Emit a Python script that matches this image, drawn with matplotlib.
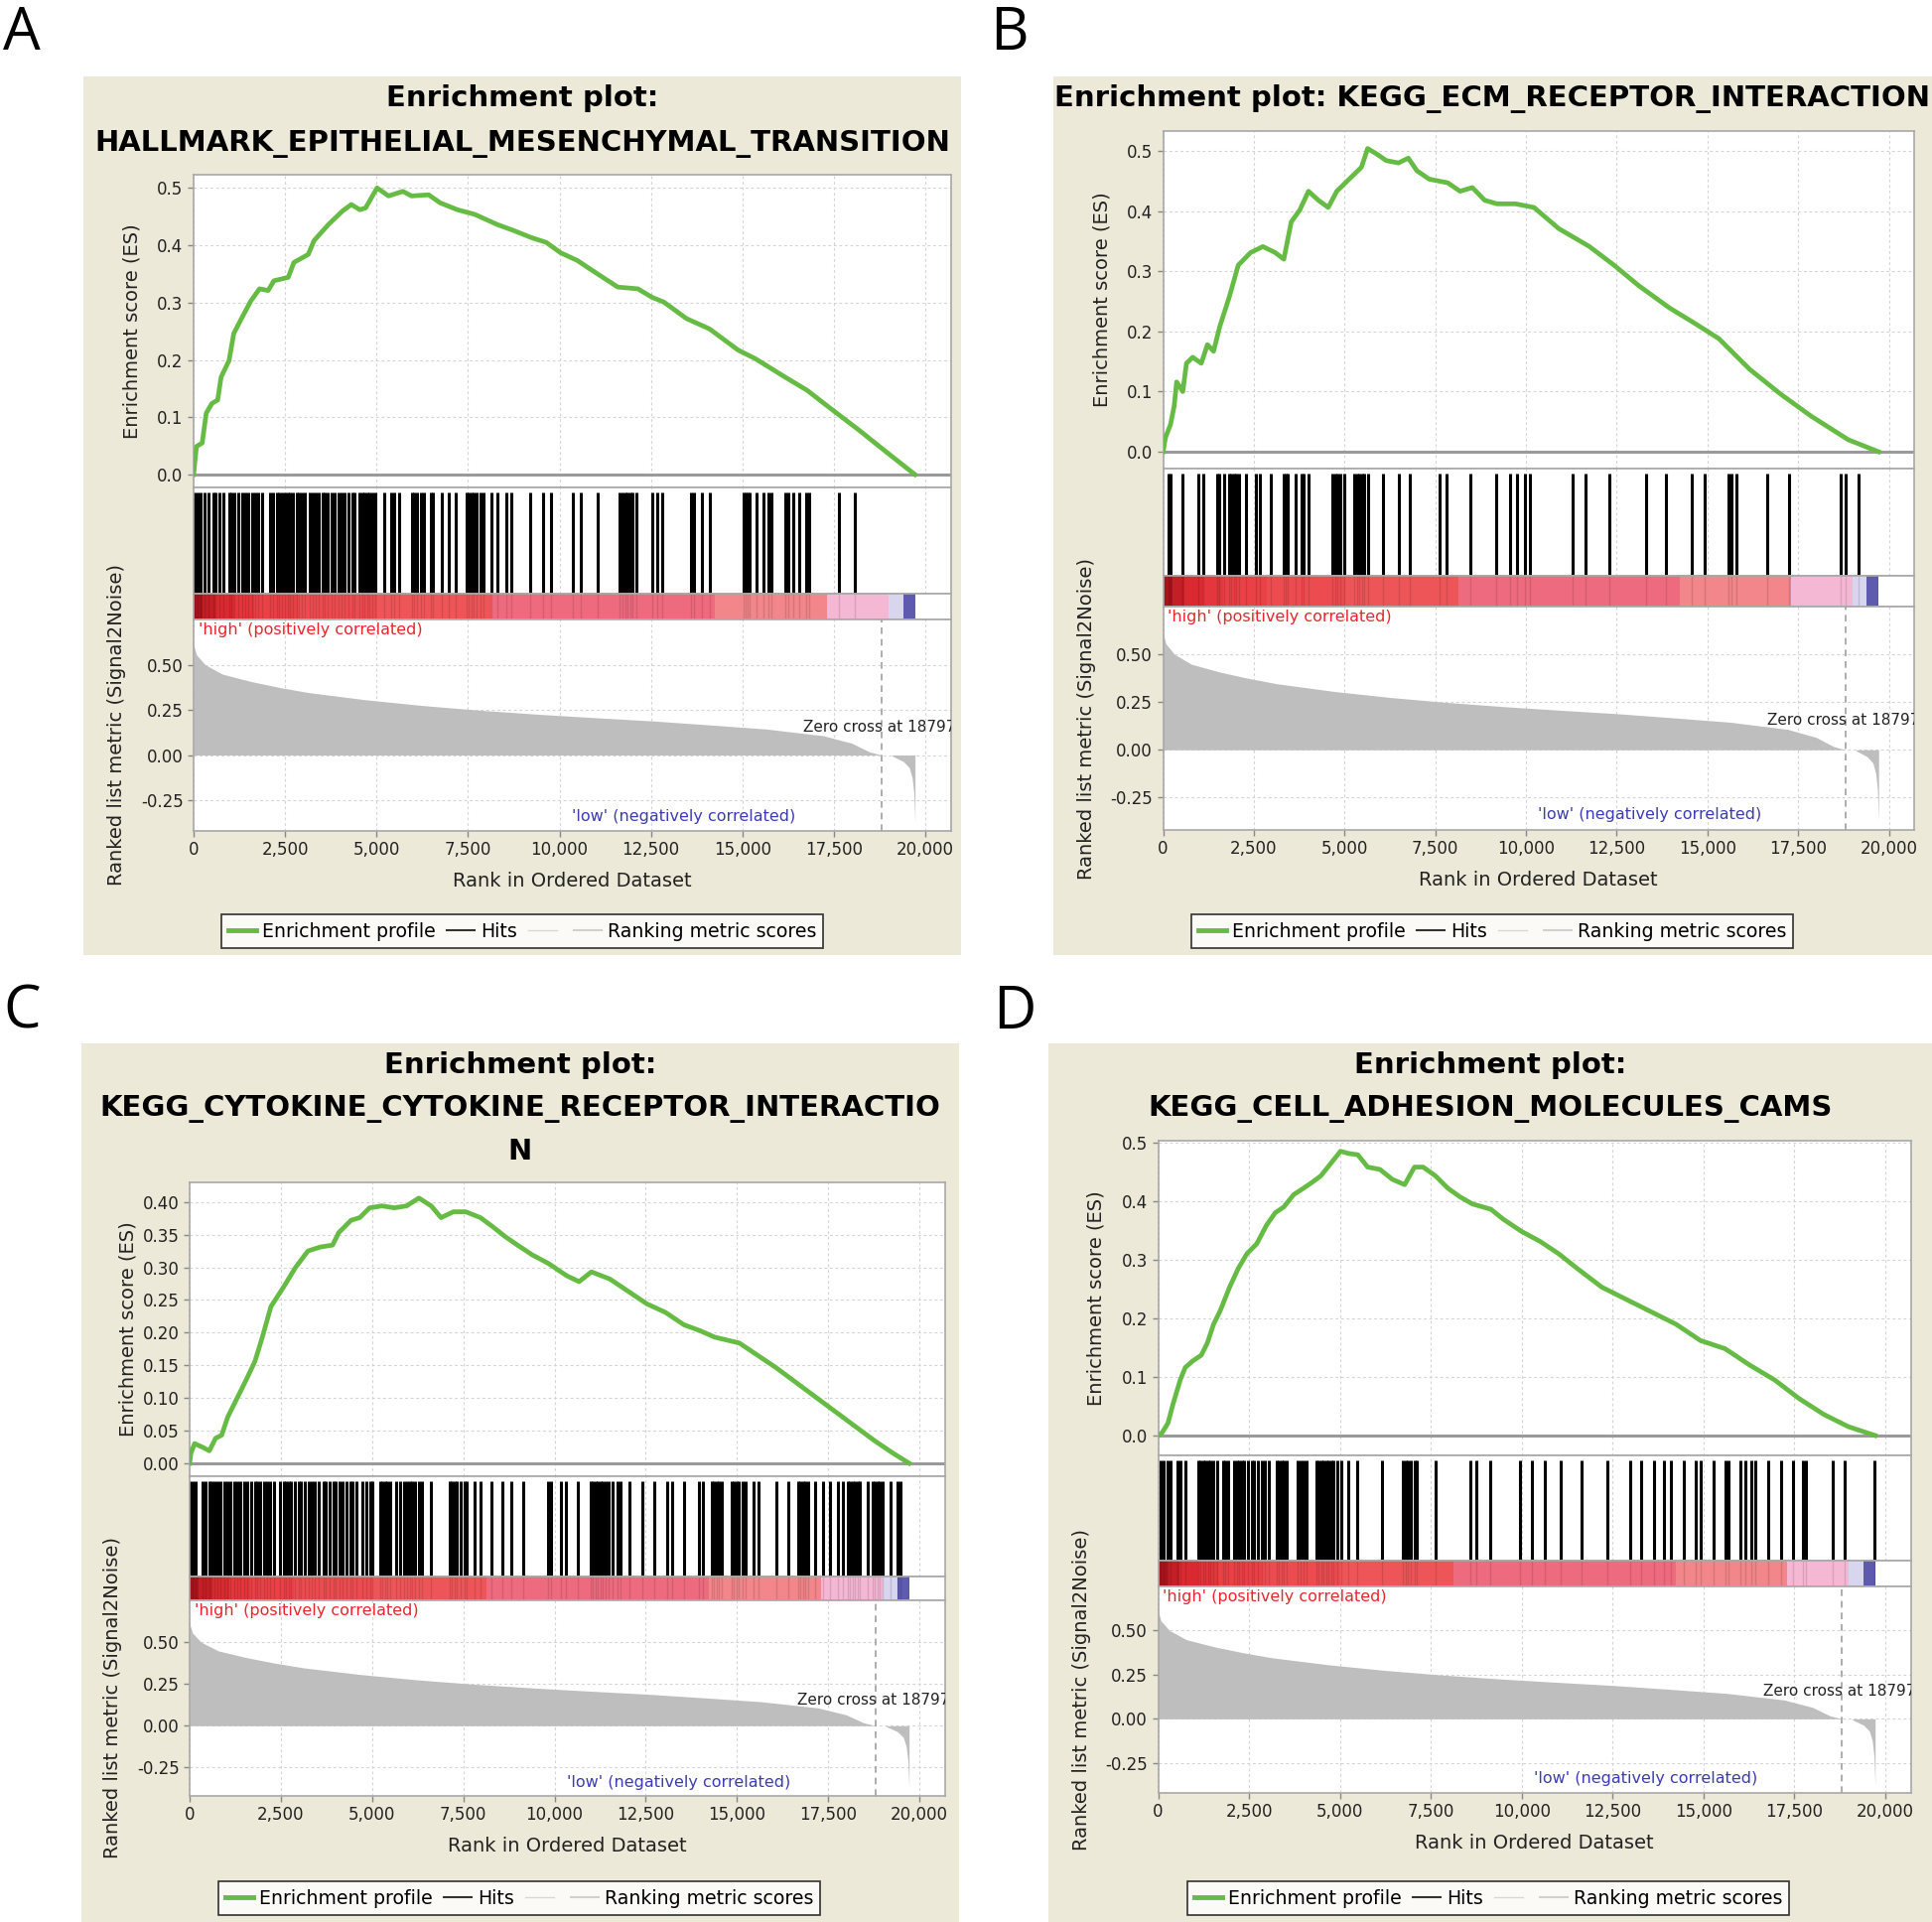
import numpy as np
import matplotlib.pyplot as plt
from matplotlib.lines import Line2D
from matplotlib.patches import Rectangle
from matplotlib.ticker import FormatStrFormatter, FuncFormatter

# ---- data ----
titles = [
    ["Enrichment plot:", "HALLMARK_EPITHELIAL_MESENCHYMAL_TRANSITION"],
    ["Enrichment plot: KEGG_ECM_RECEPTOR_INTERACTION"],
    ["Enrichment plot:", "KEGG_CYTOKINE_CYTOKINE_RECEPTOR_INTERACTIO", "N"],
    ["Enrichment plot:", "KEGG_CELL_ADHESION_MOLECULES_CAMS"],
]
panel_letters = ["A", "B", "C", "D"]

es_a_rank = [0, 78, 235, 345, 500, 658, 752, 970, 1097, 1332, 1567, 1802, 2037, 2194, 2586, 2742,
             3134, 3291, 3683, 4075, 4310, 4544, 4701, 5014, 5328, 5720, 5955, 6425, 6738, 7208,
             7678, 8305, 8775, 9245, 9637, 10029, 10499, 10969, 11596, 12144, 12536, 12849,
             13476, 14103, 14887, 15357, 16141, 16768, 17395, 18178, 18962, 19718]
es_a_score = [0, 0.049, 0.055, 0.107, 0.124, 0.130, 0.170, 0.199, 0.246, 0.275, 0.303, 0.324, 0.321,
              0.338, 0.344, 0.370, 0.384, 0.408, 0.436, 0.460, 0.471, 0.462, 0.465, 0.500, 0.486,
              0.494, 0.486, 0.488, 0.474, 0.462, 0.454, 0.436, 0.425, 0.413, 0.405, 0.387, 0.373,
              0.353, 0.327, 0.324, 0.309, 0.301, 0.272, 0.254, 0.217, 0.202, 0.171, 0.147, 0.116,
              0.078, 0.038, 0.0]

es_b_rank = [0, 68, 204, 306, 374, 543, 645, 815, 1053, 1223, 1392, 1562, 1834, 2071, 2411, 2750,
             3090, 3328, 3532, 3770, 4007, 4279, 4551, 4788, 5026, 5298, 5468, 5637, 5909, 6147,
             6486, 6758, 6996, 7335, 7845, 8184, 8524, 8863, 9203, 9713, 10222, 10901, 11750,
             12429, 13108, 13957, 14637, 15316, 16165, 17014, 17863, 18882, 19718]
es_b_score = [0, 0.024, 0.045, 0.076, 0.116, 0.100, 0.147, 0.157, 0.147, 0.178, 0.167, 0.208, 0.259,
              0.310, 0.331, 0.341, 0.331, 0.320, 0.382, 0.402, 0.433, 0.418, 0.406, 0.433, 0.447,
              0.463, 0.473, 0.504, 0.494, 0.484, 0.480, 0.488, 0.467, 0.453, 0.447, 0.433, 0.439,
              0.418, 0.412, 0.412, 0.406, 0.371, 0.341, 0.310, 0.276, 0.239, 0.214, 0.188, 0.137,
              0.096, 0.059, 0.020, 0.0]

es_c_rank = [0, 34, 135, 372, 540, 709, 878, 1047, 1216, 1554, 1790, 1993, 2230, 2567, 2905, 3243,
             3581, 3918, 4087, 4425, 4662, 4932, 5270, 5608, 5946, 6283, 6621, 6891, 7229, 7567,
             7972, 8310, 8648, 8985, 9391, 9830, 10337, 10674, 11012, 11519, 12026, 12532, 13039,
             13546, 13985, 14390, 15066, 15573, 16079, 16755, 17430, 18106, 18781, 19288, 19718]
es_c_score = [0.0, 0.015, 0.030, 0.024, 0.019, 0.038, 0.043, 0.071, 0.090, 0.128, 0.156, 0.193,
              0.240, 0.269, 0.300, 0.325, 0.331, 0.334, 0.353, 0.372, 0.376, 0.391, 0.394, 0.391,
              0.394, 0.406, 0.394, 0.376, 0.385, 0.385, 0.376, 0.362, 0.347, 0.334, 0.319, 0.306,
              0.287, 0.278, 0.293, 0.282, 0.263, 0.244, 0.231, 0.212, 0.203, 0.193, 0.184, 0.165,
              0.146, 0.118, 0.090, 0.062, 0.034, 0.015, 0.0]

es_d_rank = [0, 102, 271, 407, 610, 746, 949, 1187, 1356, 1526, 1695, 1966, 2204, 2441, 2712, 2983,
             3221, 3458, 3729, 4000, 4238, 4475, 4746, 5017, 5255, 5492, 5763, 6102, 6441, 6780,
             7051, 7289, 7628, 7967, 8306, 8645, 9153, 9492, 10001, 10509, 11018, 11526, 12204,
             12882, 13560, 14238, 14916, 15594, 16272, 16950, 17628, 18306, 18984, 19718]
es_d_score = [0, 0.004, 0.021, 0.053, 0.095, 0.116, 0.127, 0.137, 0.158, 0.190, 0.211, 0.253, 0.285,
              0.310, 0.327, 0.359, 0.380, 0.390, 0.411, 0.422, 0.432, 0.443, 0.464, 0.485, 0.481,
              0.479, 0.458, 0.454, 0.437, 0.428, 0.458, 0.458, 0.443, 0.422, 0.407, 0.395, 0.386,
              0.369, 0.348, 0.331, 0.310, 0.285, 0.253, 0.232, 0.211, 0.190, 0.162, 0.148, 0.120,
              0.095, 0.063, 0.036, 0.015, 0.0]

hits_a = [27, 108, 203, 298, 407, 542, 610, 705, 814, 976, 1044, 1125, 1220, 1329, 1424, 1492, 1600,
          1695, 1763, 1871, 2102, 2170, 2278, 2332, 2414, 2509, 2576, 2644, 2712, 2820, 2875, 2956,
          3051, 3187, 3254, 3336, 3417, 3526, 3593, 3661, 3770, 3865, 3959, 4041, 4136, 4231, 4339,
          4407, 4543, 4610, 4678, 4746, 4814, 4882, 4977, 5221, 5397, 5492, 5627, 5966, 6034, 6102,
          6210, 6305, 6482, 6536, 6780, 6983, 7160, 7458, 7526, 7594, 7661, 7729, 7838, 7933, 8136,
          8312, 8543, 8678, 9194, 9560, 9763, 10373, 10577, 11051, 11634, 11729, 11797, 11865, 11933,
          12001, 12096, 12543, 12679, 12814, 13587, 13668, 13899, 14102, 15025, 15079, 15133, 15187,
          15391, 15567, 15702, 15797, 16164, 16245, 16380, 16543, 16747, 16814, 17628, 18062]

hits_b = [163, 217, 529, 977, 1113, 1479, 1547, 1683, 1818, 1886, 1954, 2022, 2090, 2293, 2565, 2660,
          2972, 3311, 3379, 3447, 3650, 3813, 3881, 4017, 4668, 4736, 4804, 4872, 4980, 5279, 5347,
          5414, 5482, 5550, 5645, 6052, 6486, 6812, 7626, 7816, 8468, 9173, 9553, 9757, 9960, 10096,
          11290, 11630, 12308, 13312, 13855, 14574, 14913, 15592, 15660, 15795, 16650, 17247, 18686,
          18822, 19161]

hits_c = [5, 95, 176, 366, 447, 542, 610, 678, 773, 854, 949, 1044, 1125, 1220, 1315, 1397, 1492,
          1587, 1695, 1803, 1858, 1939, 2034, 2129, 2210, 2305, 2481, 2576, 2644, 2712, 2780, 2888,
          2983, 3051, 3159, 3254, 3349, 3431, 3526, 3661, 3729, 3838, 3932, 4000, 4109, 4204, 4299,
          4407, 4475, 4570, 4746, 4841, 4949, 5017, 5221, 5288, 5356, 5424, 5492, 5655, 5763, 5871,
          5966, 6034, 6102, 6170, 6278, 6373, 6604, 7119, 7187, 7255, 7322, 7417, 7526, 7594, 7797,
          7973, 8272, 8583, 8814, 9153, 9831, 9899, 10170, 10306, 10645, 10984, 11051, 11119, 11187,
          11255, 11323, 11390, 11485, 11594, 11729, 11797, 12068, 12407, 12746, 13085, 13221, 13560,
          13967, 14062, 14306, 14374, 14441, 14509, 14577, 14848, 14916, 14984, 15052, 15147, 15228,
          15458, 15594, 16069, 16408, 16679, 16747, 16814, 16882, 16950, 17153, 17357, 17560, 17764,
          17899, 18035, 18103, 18170, 18238, 18306, 18374, 18577, 18713, 18781, 18849, 18916, 18984,
          19215, 19391, 19486]

hits_d = [68, 150, 246, 342, 519, 615, 751, 1106, 1161, 1243, 1298, 1380, 1434, 1516, 1612, 1789,
          1844, 1926, 2090, 2158, 2227, 2295, 2363, 2472, 2568, 2636, 2746, 2841, 2937, 3046, 3265,
          3319, 3388, 3456, 3538, 3838, 3907, 4002, 4071, 4344, 4412, 4480, 4549, 4617, 4685, 4754,
          4822, 4931, 5027, 5232, 5478, 6147, 6734, 6803, 6871, 6939, 7062, 7117, 7636, 8578, 8756,
          9125, 9944, 10286, 10641, 11078, 11652, 12349, 12977, 13291, 13633, 13906, 14111, 14452,
          14794, 14930, 15272, 15613, 15682, 16023, 16160, 16324, 16433, 16774, 17143, 17457, 17730,
          17826, 18550, 18892, 19711]

# ranked list metric (same ranked dataset for all four panels)
metric_pos_rank = [0, 78, 313, 782, 1565, 2347, 3130, 4695, 6260, 7825, 9390, 10955, 12520, 14085,
                   15649, 17214, 17997, 18466, 18797]
metric_pos_value = [0.61, 0.555, 0.50, 0.448, 0.407, 0.374, 0.346, 0.306, 0.274, 0.248, 0.226,
                    0.207, 0.189, 0.167, 0.144, 0.107, 0.065, 0.018, 0.0]
metric_neg_rank = [19092, 19405, 19562, 19640, 19687, 19718]
metric_neg_value = [-0.005, -0.036, -0.07, -0.125, -0.21, -0.37]
zero_cross = 18797

# colour bar bands (rank edges) of the ranked list heat strip
cbar_edges = [0, 250, 600, 1100, 1650, 2850, 5020, 8130, 14240, 17300, 19000, 19390, 19720]
cbar_colors = ['#A8141C', '#C41E26', '#DA2A31', '#E4363C', '#E94146', '#EC4C50', '#EE5558',
               '#EE6A7E', '#F2868A', '#F5B8D4', '#D8D6EE', '#5E5AB0']

x_ticks = [0, 2500, 5000, 7500, 10000, 12500, 15000, 17500, 20000]

# ---- layout (pixel positions in the 1946x1936 canvas) ----
W, H = 1946, 1936
XMAX = 20700
panels = [
    dict(box=(84, 77, 968, 962), x0=195, x20=932, es=(176, 491), hits=598, cbar=624, metric=837,
         es_lim=(-0.0225, 0.523), es_ticks=np.arange(0, 0.51, 0.1), es_fmt='%.1f',
         title_y=[99, 145], legend_cx=526, legend_cy=938),
    dict(box=(1061, 77, 1946, 962), x0=1171.5, x20=1902.5, es=(132, 472), hits=580, cbar=611,
         metric=836, es_lim=(-0.028, 0.533), es_ticks=np.arange(0, 0.51, 0.1), es_fmt='%.1f',
         title_y=[99], legend_cx=1503, legend_cy=938),
    dict(box=(82, 1051, 966, 1936), x0=191, x20=926, es=(1191, 1487), hits=1588, cbar=1612,
         metric=1809, es_lim=(-0.02, 0.43), es_ticks=np.arange(0, 0.41, 0.05), es_fmt='%.2f',
         title_y=[1073, 1117, 1160], legend_cx=523, legend_cy=1912),
    dict(box=(1056, 1051, 1946, 1936), x0=1166.5, x20=1899, es=(1149, 1466), hits=1572, cbar=1598,
         metric=1806, es_lim=(-0.034, 0.503), es_ticks=np.arange(0, 0.51, 0.1), es_fmt='%.1f',
         title_y=[1073, 1117], legend_cx=1499, legend_cy=1912),
]
letter_pos = [(3, 50), (997, 50), (3, 1036), (1000, 1036)]

es_ranks = [es_a_rank, es_b_rank, es_c_rank, es_d_rank]
es_scores = [es_a_score, es_b_score, es_c_score, es_d_score]
hits_all = [hits_a, hits_b, hits_c, hits_d]

BEIGE = '#ECE9D8'
GREEN = '#66BB44'
GRID = dict(color='#D4D4D4', linestyle=(0, (2.5, 2.5)), linewidth=0.8)
SPINE = '#A8A8A8'

plt.rcParams['font.family'] = ['DejaVu Sans']

fig = plt.figure(figsize=(W / 100, H / 100), dpi=100)
fig.patch.set_facecolor('white')


def px_axes(x0, y0, x1, y1):
    ax = fig.add_axes([x0 / W, 1 - y1 / H, (x1 - x0) / W, (y1 - y0) / H])
    ax.set_zorder(2)
    return ax


def style(ax):
    for s in ax.spines.values():
        s.set_color(SPINE)
        s.set_linewidth(1.2)
    ax.set_xlim(0, XMAX)
    ax.set_xticks(x_ticks)
    ax.tick_params(colors='#888888', labelcolor='#222222', labelsize=12, length=4, width=1)
    ax.grid(True, **GRID)
    ax.set_axisbelow(True)


k_fmt = FuncFormatter(lambda v, p: f"{int(v):,}")

for i, p in enumerate(panels):
    bx0, by0, bx1, by1 = p['box']
    fig.patches.append(Rectangle((bx0 / W, 1 - by1 / H), (bx1 - bx0) / W, (by1 - by0) / H,
                                 transform=fig.transFigure, facecolor=BEIGE, edgecolor='none',
                                 zorder=-5))
    cx = (bx0 + bx1) / 2
    for line, ty in zip(titles[i], p['title_y']):
        fig.text(cx / W, 1 - ty / H, line, ha='center', va='center', fontsize=21,
                 fontweight='bold', color='black')
    lx, ly = letter_pos[i]
    fig.text(lx / W, 1 - ly / H, panel_letters[i], fontsize=43, family='Open Sans',
             ha='left', va='baseline')

    left = p['x0']
    right = p['x0'] + (p['x20'] - p['x0']) * XMAX / 20000

    # enrichment score
    ax = px_axes(left, p['es'][0], right, p['es'][1])
    style(ax)
    ax.set_ylim(*p['es_lim'])
    ax.set_yticks(p['es_ticks'])
    ax.yaxis.set_major_formatter(FormatStrFormatter(p['es_fmt']))
    ax.tick_params(axis='x', bottom=False, labelbottom=False)
    ax.axhline(0, color='#9A9A9A', lw=2.2, zorder=1)
    ax.plot(es_ranks[i], es_scores[i], color=GREEN, lw=3.4, zorder=3, solid_joinstyle='round')
    fig.text((p['x0'] - 62) / W, 1 - ((p['es'][0] + p['es'][1]) / 2) / H, 'Enrichment score (ES)',
             rotation=90, ha='center', va='center', fontsize=14, color='#222222')

    # hits
    hx = px_axes(left, p['es'][1], right, p['hits'])
    style(hx)
    hx.grid(True, axis='x', **GRID)
    hx.grid(False, axis='y')
    hx.set_ylim(0, 1)
    hx.set_yticks([])
    hx.tick_params(axis='x', bottom=False, labelbottom=False)
    hx.vlines(hits_all[i], 0, 0.95, color='black', lw=2.2)

    # colour strip
    cx_ax = px_axes(left, p['hits'], right, p['cbar'])
    style(cx_ax)
    cx_ax.grid(False)
    cx_ax.set_ylim(0, 1)
    cx_ax.set_yticks([])
    cx_ax.tick_params(axis='x', bottom=False, labelbottom=False)
    for e0, e1, c in zip(cbar_edges[:-1], cbar_edges[1:], cbar_colors):
        cx_ax.broken_barh([(e0, e1 - e0)], (0, 1), facecolors=c, edgecolor='none')
    cx_ax.vlines(hits_all[i], 0, 1, color='black', lw=1.0, alpha=0.12)

    # ranked list metric
    mx = px_axes(left, p['cbar'], right, p['metric'])
    style(mx)
    mx.set_ylim(-0.42, 0.75)
    mx.set_yticks([0.5, 0.25, 0.0, -0.25])
    mx.yaxis.set_major_formatter(FormatStrFormatter('%.2f'))
    mx.xaxis.set_major_formatter(k_fmt)
    mx.fill_between(metric_pos_rank, metric_pos_value, 0, color='#BEBEBE', lw=0)
    mx.fill_between(metric_neg_rank, metric_neg_value, 0, color='#BEBEBE', lw=0)
    mx.axvline(zero_cross, color='#A0A0A0', ls=(0, (4, 3)), lw=1.2)
    mx.text(0.006, 0.985, "'high' (positively correlated)", transform=mx.transAxes, ha='left',
            va='top', fontsize=11.5, color='#E8262E')
    mx.text(16650, 0.155, f'Zero cross at {zero_cross}', ha='left', va='center', fontsize=11,
            color='#222222', clip_on=True)
    mx.text(13400, -0.34, "'low' (negatively correlated)", ha='center', va='center', fontsize=11.5,
            color='#3C3CB4')
    mx.set_xlabel('Rank in Ordered Dataset', fontsize=14, color='#222222', labelpad=9)
    fig.text((p['x0'] - 77) / W, 1 - ((p['cbar'] + p['metric']) / 2) / H,
             'Ranked list metric (Signal2Noise)', rotation=90, ha='center', va='center',
             fontsize=14, color='#222222')

    handles = [Line2D([], [], color=GREEN, lw=3.5), Line2D([], [], color='#333333', lw=1.5),
               Line2D([], [], color='#D8D8D8', lw=1.0), Line2D([], [], color='#D0D0D0', lw=1.5)]
    labels = ['Enrichment profile', 'Hits', '', 'Ranking metric scores']
    leg = fig.legend(handles, labels, loc='center',
                     bbox_to_anchor=(p['legend_cx'] / W, 1 - p['legend_cy'] / H), ncol=4,
                     frameon=True, fancybox=False, fontsize=13.6, handlelength=1.5,
                     handletextpad=0.3, columnspacing=0.6, borderpad=0.4)
    leg.get_frame().set_edgecolor('black')
    leg.get_frame().set_linewidth(1.2)
    leg.get_frame().set_facecolor('white')
    leg.set_zorder(3)

fig.savefig('out.png', dpi=100, facecolor='white')
